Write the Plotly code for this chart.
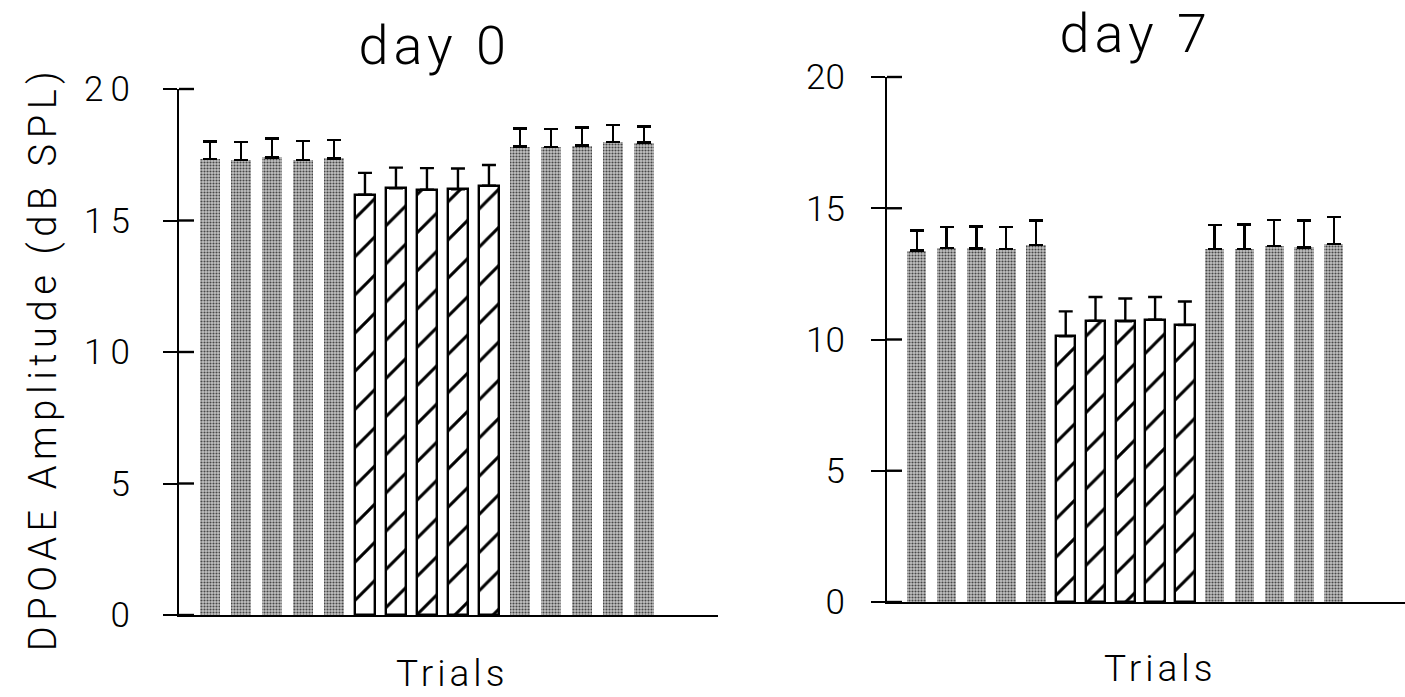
import plotly.graph_objects as go

# DPOAE amplitude (dB SPL) per trial, mean and upper SEM
trials = list(range(1, 16))
day0_amp = [17.33, 17.31, 17.40, 17.31, 17.36,
            15.98, 16.22, 16.17, 16.19, 16.32,
            17.81, 17.80, 17.85, 17.98, 17.96]
day0_sem = [0.68, 0.68, 0.72, 0.72, 0.69,
            0.83, 0.79, 0.82, 0.79, 0.79,
            0.69, 0.68, 0.68, 0.64, 0.61]
day7_amp = [13.39, 13.48, 13.47, 13.45, 13.59,
            10.12, 10.71, 10.69, 10.75, 10.55,
            13.45, 13.45, 13.56, 13.51, 13.63]
day7_sem = [0.76, 0.80, 0.83, 0.83, 0.94,
            0.95, 0.91, 0.87, 0.87, 0.90,
            0.91, 0.93, 0.99, 1.02, 1.04]
ytick_vals = [0, 5, 10, 15, 20]
ytick_text = ["0", "5", "10", "15", "20"]
panel_titles = ["day 0", "day 7"]
x_title = "Trials"
y_title = "DPOAE Amplitude (dB SPL)"

# trials 6-10 are the hatched (test) block, the rest are plain baseline/recovery
hatched_idx = list(range(5, 10))
plain_idx = [i for i in range(15) if i not in hatched_idx]

FONT = "Roboto, 'Open Sans', sans-serif"
W, H = 1405, 697
LW = 2.4

# panel frames in pixels: (axis x, right end x, top y of 20, bottom y of 0)
panels = {
    "left": dict(x0=179, x1=718, ytop=89, ybot=615),
    "right": dict(x0=887, x1=1405, ytop=77, ybot=602),
}

fig = go.Figure()


def add_panel(amp, sem, xa, ya):
    err = dict(type="data", symmetric=False, color="black", thickness=LW, width=7)
    fig.add_trace(go.Bar(
        x=[trials[i] for i in plain_idx],
        y=[amp[i] for i in plain_idx],
        width=0.65,
        marker=dict(
            color="#a8a8a8",
            line=dict(width=0),
            pattern=dict(shape=".", fillmode="replace", bgcolor="#c2c2c2",
                         fgcolor="#474747", size=3, solidity=0.4),
        ),
        error_y=dict(err, array=[sem[i] for i in plain_idx],
                     arrayminus=[0] * len(plain_idx)),
        xaxis=xa, yaxis=ya, hoverinfo="skip",
    ))
    fig.add_trace(go.Bar(
        x=[trials[i] for i in hatched_idx],
        y=[amp[i] for i in hatched_idx],
        width=0.65,
        marker=dict(
            color="white",
            line=dict(width=LW, color="black"),
            pattern=dict(shape="/", fillmode="replace", bgcolor="white",
                         fgcolor="black", size=27, solidity=0.11),
        ),
        error_y=dict(err, array=[sem[i] for i in hatched_idx],
                     arrayminus=[0] * len(hatched_idx)),
        xaxis=xa, yaxis=ya, hoverinfo="skip",
    ))


add_panel(day0_amp, day0_sem, "x", "y")
add_panel(day7_amp, day7_sem, "x2", "y2")

xrange = [0, 17.39]
yrange = [0, 20]
common_x = dict(range=xrange, showline=True, linecolor="black", linewidth=LW,
                ticks="", showticklabels=False, showgrid=False, zeroline=False,
                fixedrange=True, automargin=False)
common_y = dict(range=yrange, tickvals=ytick_vals, ticktext=ytick_text,
                ticks="outside", ticklen=14, tickwidth=LW, tickcolor="black",
                showline=True, linecolor="black", linewidth=LW,
                showgrid=False, zeroline=False, ticklabelstandoff=19,
                tickfont=dict(family=FONT, size=35, color="black", weight=300),
                fixedrange=True, automargin=False)


def dom_x(p):
    return [p["x0"] / W, p["x1"] / W]


def dom_y(p):
    return [1 - p["ybot"] / H, 1 - p["ytop"] / H]


L, R = panels["left"], panels["right"]
fig.update_layout(
    width=W, height=H,
    margin=dict(l=0, r=0, t=0, b=0, pad=0, autoexpand=False),
    paper_bgcolor="white", plot_bgcolor="white",
    showlegend=False, barmode="overlay", bargap=0,
    xaxis=dict(common_x, domain=dom_x(L), anchor="y"),
    yaxis=dict(common_y, domain=dom_y(L), anchor="x"),
    xaxis2=dict(common_x, domain=dom_x(R), anchor="y2"),
    yaxis2=dict(common_y, domain=dom_y(R), anchor="x2"),
)

# inner half of each y tick, so the marks cross the axis line
for p in (L, R):
    d0, d1 = dom_y(p)
    for v in ytick_vals:
        yf = d0 + (v - yrange[0]) / (yrange[1] - yrange[0]) * (d1 - d0)
        fig.add_shape(type="line", xref="paper", yref="paper",
                      x0=p["x0"] / W, x1=(p["x0"] + 15) / W, y0=yf, y1=yf,
                      line=dict(color="black", width=LW), layer="above")

title_font = dict(family=FONT, size=54, color="black", weight=300)
label_font = dict(family=FONT, size=37, color="black", weight=300)
ytitle_font = dict(family=FONT, size=38, color="black", weight=300)

fig.add_annotation(text=panel_titles[0], xref="paper", yref="paper",
                   x=434 / W, y=1 - 45 / H, showarrow=False, font=title_font,
                   xanchor="center", yanchor="middle")
fig.add_annotation(text=panel_titles[1], xref="paper", yref="paper",
                   x=1135 / W, y=1 - 33 / H, showarrow=False, font=title_font,
                   xanchor="center", yanchor="middle")
fig.add_annotation(text=x_title, xref="paper", yref="paper",
                   x=452 / W, y=0, showarrow=False, font=label_font,
                   xanchor="center", yanchor="bottom")
fig.add_annotation(text=x_title, xref="paper", yref="paper",
                   x=1160 / W, y=1 - 668 / H, showarrow=False, font=label_font,
                   xanchor="center", yanchor="middle")
fig.add_annotation(text=y_title, xref="paper", yref="paper",
                   x=43 / W, y=1 - 359 / H, showarrow=False, font=ytitle_font,
                   textangle=-90, xanchor="center", yanchor="middle")

# widen the letter spacing of the lettering
spacing_js = """
var gd = document.getElementById('{plot_id}');
function spread() {
  gd.querySelectorAll('.ytick text').forEach(function (t) {
    t.style.letterSpacing = '7px';
  });
  gd.querySelectorAll('.annotation-text').forEach(function (t) {
    var s = t.textContent;
    if (s.indexOf('day') === 0) { t.style.letterSpacing = '5px'; }
    else if (s.indexOf('DPOAE') === 0) { t.style.letterSpacing = '5.6px'; }
    else { t.style.letterSpacing = '4px'; }
  });
}
spread();
gd.on('plotly_afterplot', spread);
"""

fig.write_html("out.html", post_script=spacing_js)
